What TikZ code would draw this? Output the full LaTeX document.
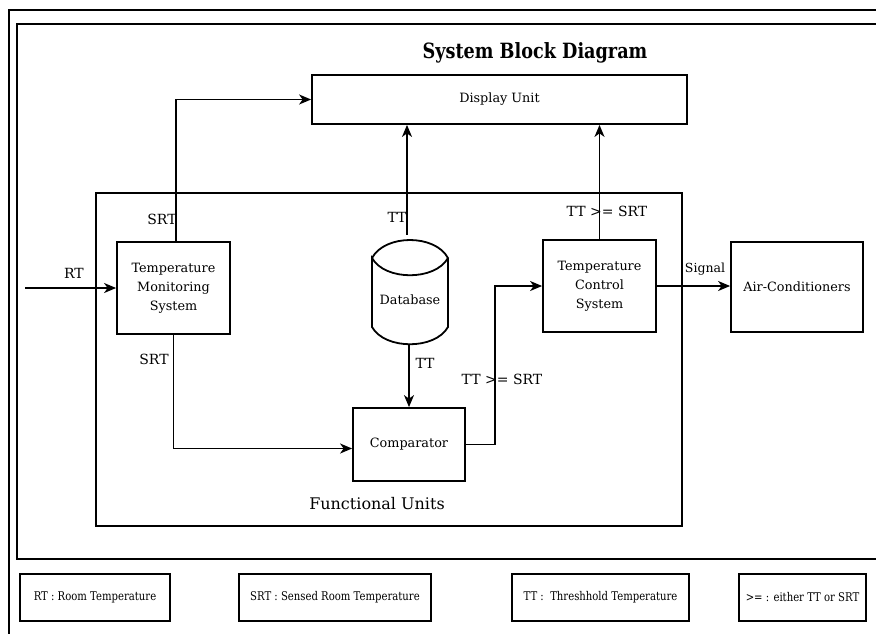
\documentclass[tikz,border=0pt]{standalone}
\usepackage{fontspec}
\setmainfont{DejaVu Serif}
\newfontfamily\condf[FakeStretch=0.84]{DejaVu Serif}
\usetikzlibrary{arrows.meta,calc}
\begin{document}
\begin{tikzpicture}[x=1pt,y=-1pt,
  blk/.style={draw=black,line width=1.8pt,inner sep=0pt,align=center,font=\fontsize{12.8}{19}\selectfont},
  legbox/.style={draw=black,line width=1.8pt,inner sep=0pt,minimum height=47pt,font=\condf\fontsize{12}{14}\selectfont},
  frame/.style={draw=black,line width=2pt},
  conn/.style={draw=black,line width=1.5pt},
  arr/.style={conn,-{Stealth[length=12pt,width=10pt,inset=3.5pt]}},
  lbl/.style={inner sep=0pt,font=\fontsize{14}{16}\selectfont}]
\useasboundingbox (0,0) rectangle (876,633);
\clip (0,0) rectangle (876,633);
% outer frames
\draw[frame] (9,700) -- (9,10) -- (900,10);
\draw[frame] (900,559) -- (17,559) -- (17,24) -- (900,24);
% title
\node[inner sep=0pt,font=\condf\bfseries\fontsize{21}{24}\selectfont] (title) at (535,53) {System Block Diagram};
% functional units frame
\draw[frame] (96,193) rectangle (682,526);
\node[inner sep=0pt,font=\fontsize{16}{18}\selectfont] (fu) at (377,504) {Functional Units};
% blocks
\node[blk,minimum width=375pt,minimum height=49pt] (disp) at (499.5,99.5) {Display Unit};
\node[blk,minimum width=113pt,minimum height=92pt] (tms) at (173.5,288) {Temperature\\Monitoring\\System};
\node[inner sep=0pt,minimum width=76pt,minimum height=104pt] (db) at (410,292) {};
\node[inner sep=0pt,font=\fontsize{12.8}{19}\selectfont] (dbt) at (410,300) {Database};
\draw[line width=1.8pt] (372,258) .. controls (385,234) and (435,234) .. (448,258)
  .. controls (435,281) and (385,281) .. (372,258) -- (372,327)
  .. controls (385,350) and (435,350) .. (448,327) -- (448,258);
\node[blk,minimum width=112pt,minimum height=73pt] (cmp) at (409,444.5) {Comparator};
\node[blk,minimum width=113pt,minimum height=92pt] (tcs) at (599.5,286) {Temperature\\Control\\System};
\node[blk,minimum width=132pt,minimum height=90pt] (ac) at (797,287) {Air-Conditioners};
% connectors
\coordinate (rtin) at (25,288);
\draw[arr] (rtin) -- (tms.west);
\draw[arr] ([xshift=2.5pt]tms.north) |- (disp.west);
\draw[arr] (tms.south) |- ([yshift=-4pt]cmp.west);
\draw[arr] ([xshift=-3pt,yshift=5pt]db.north) -- ([xshift=-3pt]db.north |- disp.south);
\draw[arr] (cmp.north |- db.south) -- (cmp.north);
\draw[arr] (cmp.east) -- ++(29,0) |- (tcs.west);
\draw[arr] (tcs.north) -- (tcs.north |- disp.south);
\draw[arr] (tcs.east) -- (tcs.east -| ac.west);
% labels
\node[lbl] (lrt) at (74,273) {RT};
\node[lbl] (lsrt1) at (162,219) {SRT};
\node[lbl] (lsrt2) at (154,359) {SRT};
\node[lbl] (ltt1) at (397,217) {TT};
\node[lbl] (ltt2) at (425,363) {TT};
\node[lbl] (lge1) at (502,379) {TT >= SRT};
\node[lbl] (lge2) at (607,211) {TT >= SRT};
\node[inner sep=0pt,font=\fontsize{12.5}{14}\selectfont] (lsig) at (705,269) {Signal};
% legend
\node[legbox,minimum width=150pt] (lg1) at (95,597.5) {RT : Room Temperature};
\node[legbox,minimum width=192pt] (lg2) at (335,597.5) {SRT : Sensed Room Temperature};
\node[legbox,minimum width=177pt] (lg3) at (600.5,597.5) {TT : ~Threshhold Temperature};
\node[legbox,minimum width=127pt] (lg4) at (802.5,597.5) {>= : either TT or SRT};
\end{tikzpicture}
\end{document}
